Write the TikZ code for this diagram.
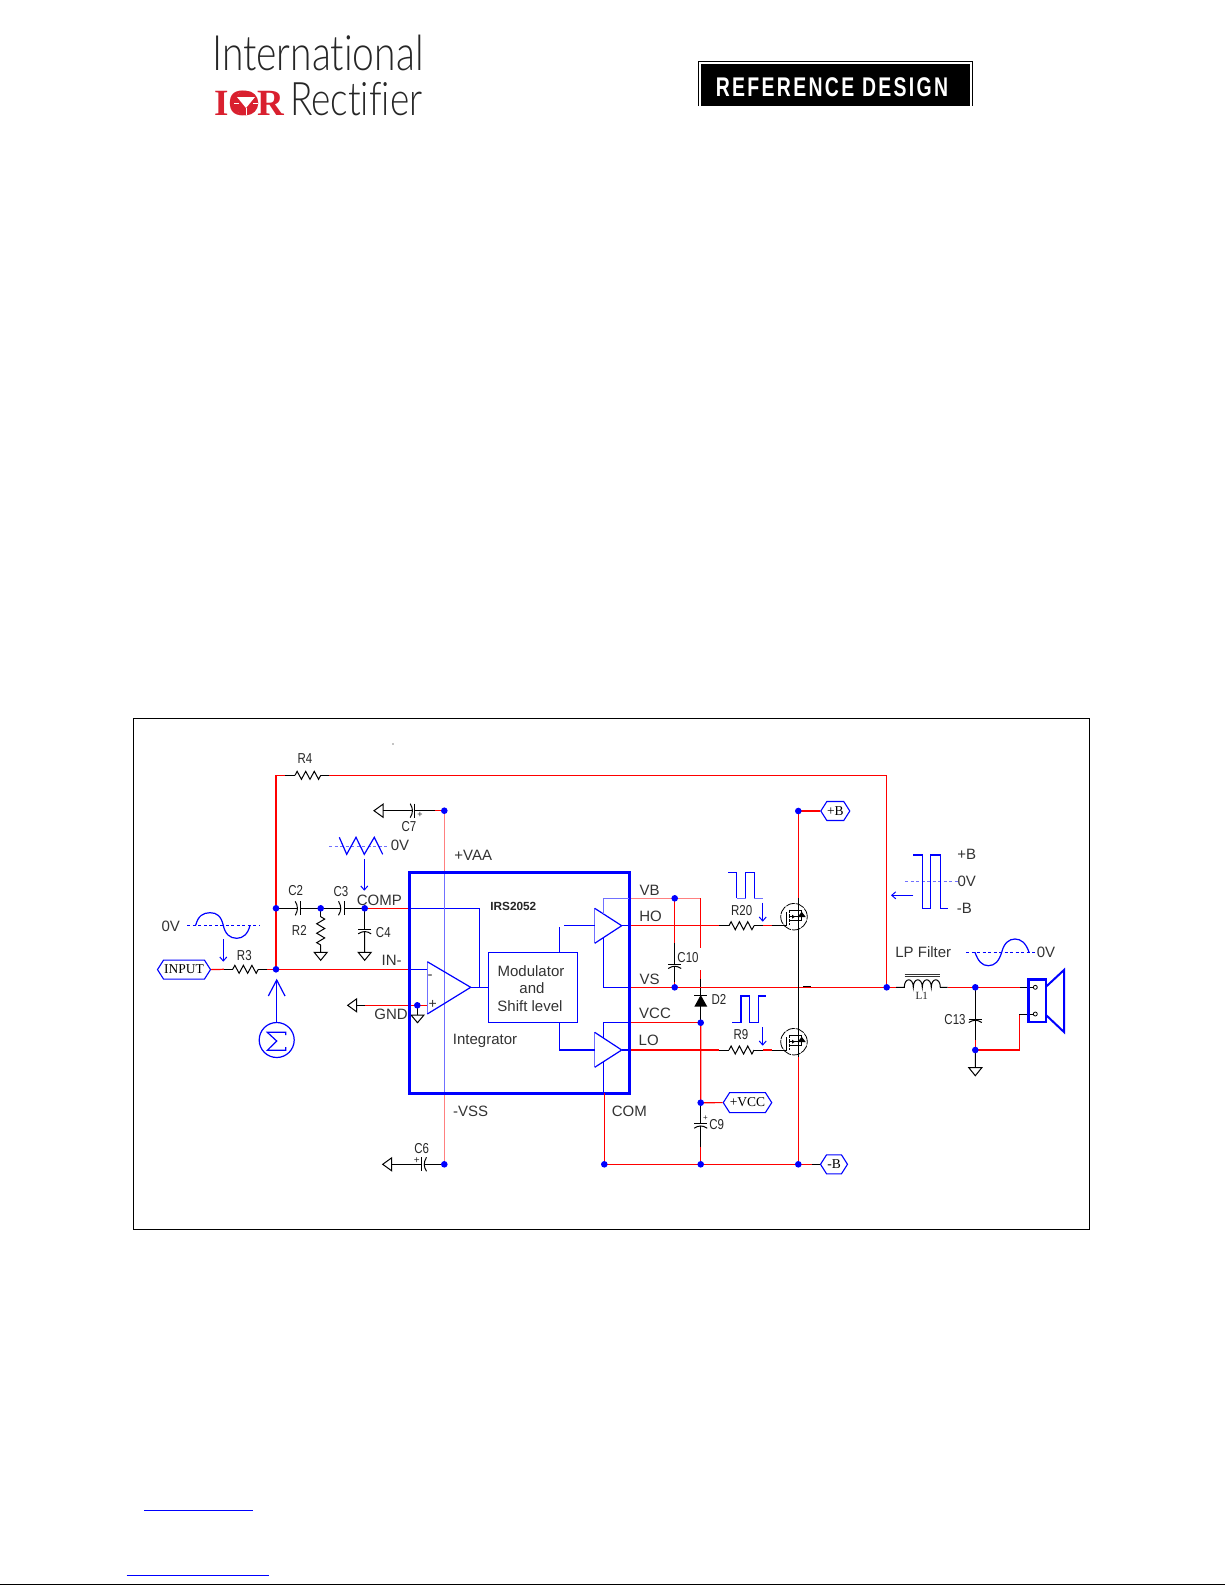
\documentclass[tikz,border=0pt]{standalone}
\usepackage{fontspec}
\usepackage{graphicx}
\usetikzlibrary{arrows.meta,shapes.symbols}
\setmainfont{Liberation Sans}
\newfontfamily\tagfont{Liberation Serif}
\newfontfamily\logofont{Lato Light}[Ligatures=NoCommon]
\newfontfamily\iorfont{Liberation Serif}[BoldFont=Liberation Serif Bold]
\definecolor{wred}{HTML}{FF0000}
\definecolor{wpink}{HTML}{FF8080}
\definecolor{wblue}{HTML}{0000FF}
\definecolor{lblue}{HTML}{7070FF}
\definecolor{iorred}{HTML}{D9202F}
\newcommand\tall[1]{\scalebox{1}[1.25]{#1}}
\newcommand\ZigH[3]{\pgfmathsetmacro\zs{(#2-#1)/12}\draw[bk,line join=miter] (#1,#3) -- ++(\zs,-4) -- ++(2*\zs,8) -- ++(2*\zs,-8) -- ++(2*\zs,8) -- ++(2*\zs,-8) -- ++(2*\zs,8) -- ++(\zs,-4);}
\newcommand\ZigV[3]{\pgfmathsetmacro\zs{(#3-#2)/12}\draw[bk,line join=miter] (#1,#2) -- ++(4,\zs) -- ++(-8,2*\zs) -- ++(8,2*\zs) -- ++(-8,2*\zs) -- ++(8,2*\zs) -- ++(-8,2*\zs) -- ++(4,\zs);}
\newcommand\GndD[3]{\draw[bk] (#1,#2) -- (#1,#3) (#1-6.5,#3) -- (#1+6.5,#3) -- (#1,#3+8) -- cycle;}
\newcommand\GndL[2]{\draw[bk] (#1,#2-6.5) -- (#1,#2+6.5) -- (#1-9,#2) -- cycle;}
\newcommand\CapHr[3]{\draw[bk] (#1,#3-7) -- (#1,#3+7);\draw[bk] (#2-1.5,#3-7) .. controls (#2+1.5,#3-2) and (#2+1.5,#3+2) .. (#2-1.5,#3+7);}
\newcommand\CapV[3]{\draw[bk] (#1-6.5,#2) -- (#1+6.5,#2);\draw[bk] (#1-6.5,#3+1.5) .. controls (#1-2,#3-1.5) and (#1+2,#3-1.5) .. (#1+6.5,#3+1.5);}
\newcommand\Mos[3]{%
 \node[circle,draw=black,line width=.8pt,dash pattern=on 9pt off 1pt,minimum size=26.5pt,inner sep=0] (#3) at (#1,#2) {};
 \draw[bk] (#1-7.3,#2+8.7) -- (#1-7.3,#2-5);
 \draw[bk,dash pattern=on 3.5pt off 1pt] (#1-5,#2-7) -- (#1-5,#2+8.5);
 \draw[bk] (#1-5,#2-6.7) -- (#1+4.3,#2-6.7) (#1-5,#2) -- (#1+4.3,#2) (#1-5,#2+4) -- (#1+4.3,#2+4);
 \draw[bk] (#1+4.3,#2-6.7) -- (#1+7.7,#2-6.7) -- (#1+7.7,#2+4) -- (#1+4.3,#2+4);
 \fill[black] (#1+3.7,#2+.3) -- (#1+11.7,#2+.3) -- (#1+7.7,#2-5) -- cycle;
 \fill[black] (#1-2,#2-2) -- (#1-2,#2+2) -- (#1+1,#2) -- cycle;
}
\tikzset{
 wr/.style={draw=wred,line width=1.2pt},
 wp/.style={draw=wpink,line width=1.2pt},
 bl/.style={draw=wblue,line width=1.2pt},
 lb/.style={draw=lblue,line width=1.2pt},
 bk/.style={draw=black,line width=1pt},
 dash/.style={draw=#1,line width=1pt,dash pattern=on 3pt off 2.5pt},
 dash/.default=lblue,
 arr/.style={draw=wblue,line width=1pt,-{Straight Barb[length=4pt,width=7pt]}},
 dotn/.style={circle,fill=wblue,minimum size=6.6pt,inner sep=0},
 lbl/.style={font=\fontsize{15}{15}\selectfont,text=black!80,inner sep=0},
 lblS/.style={font=\fontsize{11.5}{11.5}\selectfont,text=black!85,inner sep=0},
 tagn/.style={draw=wblue,line width=1.1pt,signal,signal to=west and east,signal pointer angle=115,inner sep=0,minimum height=19pt,font=\tagfont\fontsize{13.5}{13.5}\selectfont,text=black},
}
\begin{document}
\begin{tikzpicture}[x=1pt,y=-1pt]
\useasboundingbox (0,0) rectangle (1225,1585);
\fill[white] (0,0) rectangle (1225,1585);
% logos
\node[inner sep=0,anchor=base west,text=black!85,font=\logofont\fontsize{39}{39}\selectfont] (intl) at (212,70) {\scalebox{1.0}[1.25]{International}};
\node[inner sep=0,anchor=base west,text=black!85,font=\logofont\fontsize{37}{37}\selectfont] (rect) at (290,115) {\scalebox{1.0}[1.25]{Rectifier}};
\node[inner sep=0,anchor=base west,text=iorred,font=\iorfont\bfseries\fontsize{37}{37}\selectfont] (ior) at (214,115) {IOR};
\fill[iorred] (246,103) circle[radius=12.3pt];
\fill[white] (237,97) -- (255,97) -- (246,108) -- cycle;
\draw[white,line width=.8pt] (246,108) -- (246,115) (234,103) -- (239,103) (253,103) -- (258,103);
\draw[black,line width=1pt] (698,106) -- (698,61) -- (972,61) -- (972,106);
\fill[black] (700.5,63.5) rectangle (969.5,106);
\node[inner sep=0,text=white,font=\bfseries\fontsize{27}{27}\selectfont] (refd) at (832,87) {\scalebox{.72}[1]{\addfontfeature{LetterSpace=12}REFERENCE DESIGN}};
% bottom
\draw[wblue,line width=1pt] (144,1510.3) -- (252.7,1510.3);
\draw[wblue,line width=1pt] (126.7,1575) -- (269,1575);
\draw[black,line width=1.5pt] (0,1584.4) -- (1225,1584.4);
% frame
\draw[black,line width=1pt] (133.4,718.6) rectangle (1089.5,1229);
\fill[black] (393,744) circle[radius=.6pt];
% junctions
\coordinate (jfb) at (276,908.3);
\coordinate (jin) at (276,969.3);
\coordinate (jr4) at (276,775.3);
\coordinate (jcr) at (886.7,775.3);
\coordinate (jout) at (886.7,987.3);
\coordinate (jc23) at (320.7,908.3);
\coordinate (jcomp) at (364.7,908.3);
\coordinate (jvaa) at (444.3,810.7);
\coordinate (jvss) at (444.3,1164.3);
\coordinate (jgnd) at (417.3,1005.3);
\coordinate (jvb) at (674.7,898.3);
\coordinate (jvbr) at (700.7,898.3);
\coordinate (jvs) at (674.7,987.3);
\coordinate (jvcc) at (700.7,1022.7);
\coordinate (jpv) at (700.7,1102.7);
\coordinate (jb1) at (604.3,1164.3);
\coordinate (jb2) at (700.7,1164.3);
\coordinate (jb3) at (798.3,1164.3);
\coordinate (jpb) at (798.3,811);
\coordinate (jl) at (975.3,987.3);
\coordinate (jlg) at (975.3,1050);
% tags
\node[tagn,minimum width=53pt] (tinput) at (184,969.6) {INPUT};
\node[tagn,minimum width=29pt] (tpb) at (835.3,811) {+B};
\node[tagn,minimum width=27pt] (tmb) at (834,1164.3) {-B};
\node[tagn,minimum width=48.5pt,minimum height=20pt] (tvcc) at (747.5,1102.6) {+VCC};
% input wires
\draw[wr] (jin) -- (jr4) -- (285,775.3);
\draw[wr] (329,775.3) -- (jcr) -- (jout);
\draw[bk] (285,775.3) -- (295,775.3) (320.7,775.3) -- (329,775.3);
\ZigH{295}{320.7}{775.3}
\node[lblS] (lr4) at (305,759) {\tall{R4}};
\draw[wr] (tinput.east) -- (224,969.3);
\draw[bk] (224,969.3) -- (232.7,969.3) (258.3,969.3) -- (267,969.3);
\ZigH{232.7}{258.3}{969.3}
\draw[wr] (267,969.3) -- (jin) -- (409,969.3);
\draw[bl] (409,969.3) -- (427.3,969.3);
\node[lblS] (lr3) at (244.3,955.3) {\tall{R3}};
% feedback network
\draw[bk] (jfb) -- (296.7,908.3) (299.5,908.3) -- (jc23) -- (340.5,908.3) (344,908.3) -- (jcomp);
\CapHr{300}{296.7}{908.3}
\CapHr{344}{340}{908.3}
\draw[wr] (jcomp) -- (409,908.3);
\draw[bl] (409,908.3) -- (479.3,908.3) -- (479.3,987.3);
\node[lblS] (lc2) at (295.7,891) {\tall{C2}};
\node[lblS] (lc3) at (341,891.7) {\tall{C3}};
\node[lblS] (lr2) at (299.3,930.7) {\tall{R2}};
\node[lblS] (lc4) at (383.3,932.3) {\tall{C4}};
\draw[bk] (jc23) -- (320.7,916.7);
\ZigV{320.7}{916.7}{945}
\GndD{320.7}{945}{952.3}
\draw[bk] (jcomp) -- (364.7,929.3) (364.7,932) -- (364.7,952.3);
\CapV{364.7}{929.3}{932.3}
\GndD{364.7}{932.3}{952.3}
% VAA / VSS rail
\draw[wp] (jvaa) -- (444.3,873);
\draw[lb] (444.3,873) -- (444.3,1093);
\draw[wp] (444.3,1093) -- (jvss);
\draw[wr] (435,810.7) -- (jvaa);
\GndL{383}{810.7}
\draw[bk] (383,810.7) -- (412,810.7) (414.3,810.7) -- (435,810.7);
\CapHr{414.3}{411.7}{810.7}
\node[lblS] (pc7) at (420,814.5) {\fontsize{9}{9}\selectfont+};
\node[lblS] (lc7) at (409,827) {\tall{C7}};
\GndL{391.7}{1164.3}
\draw[bk] (391.7,1164.3) -- (421.7,1164.3) (424,1164.3) -- (jvss);
\draw[bk] (421.7,1157.3) -- (421.7,1171.3);
\draw[bk] (426.5,1157.3) .. controls (423.5,1162) and (423.5,1166.6) .. (426.5,1171.3);
\node[lblS] (pc6) at (416.7,1160.7) {\fontsize{10}{10}\selectfont+};
\node[lblS] (lc6) at (421.7,1148.3) {\tall{C6}};
% GND
\GndL{356.7}{1005.3}
\draw[bk] (356.7,1005.3) -- (365,1005.3);
\draw[wr] (365,1005.3) -- (jgnd) -- (426.7,1005.3);
\draw[bk] (jgnd) -- (417.3,1015);
\draw[bk] (411,1015) -- (424,1015) -- (417.5,1022.7) -- cycle;
% block
\draw[wblue,line width=3pt] (409.3,872.7) rectangle (629.3,1093.3);
\node[lbl] (lcomp) at (379.3,900) {COMP};
\node[lbl] (lin) at (391.7,960.7) {IN-};
\node[lbl] (lgnd) at (391,1014) {GND};
\node[lbl] (lvaa) at (473.3,855.7) {+VAA};
\node[lbl] (lvss) at (470.7,1111.7) {-VSS};
\node[lbl] (lintg) at (485,1040.7) {Integrator};
\node[inner sep=0,font=\bfseries\fontsize{11.8}{11.8}\selectfont,text=black!85] (lirs) at (513.3,906) {IRS2052};
% op amp
\draw[lb] (427.3,961.7) -- (427.3,1014);
\draw[bl] (427.3,961.7) -- (470.7,987.3) -- (427.3,1014);
\draw[bl] (470.7,987.3) -- (488.3,987.3);
\node[lbl] (lminus) at (430,977) {\fontsize{15}{15}\selectfont-};
\node[lbl] (lplus) at (432.7,1004) {\fontsize{14}{14}\selectfont+};
% modulator
\node[draw=wblue,line width=1.2pt,minimum width=89.4pt,minimum height=70pt,inner sep=0] (mod) at (533,987.3) {};
\node[lbl] (m1) at (531,970.7) {Modulator};
\node[lbl] (m2) at (532,988.3) {and};
\node[lbl] (m3) at (530,1005.7) {Shift level};
% buffers
\draw[lb] (594.7,908.3) -- (594.7,943.3);
\draw[bl] (594.7,908.3) -- (621.7,925.7) -- (594.7,943.3);
\draw[lb] (594.7,1032.3) -- (594.7,1067.3);
\draw[bl] (594.7,1032.3) -- (621.7,1050) -- (594.7,1067.3);
\draw[bl] (559.3,952.3) -- (559.3,926.7) (564,925.7) -- (594.7,925.7);
\draw[bl] (559.3,1022.3) -- (559.3,1050) -- (594.7,1050);
\draw[lb] (629,898.3) -- (603.7,898.3) -- (603.7,914);
\draw[bl] (603.7,937.5) -- (603.7,987.3) -- (629,987.3);
\draw[bl] (629,1022.7) -- (603.7,1022.7) -- (603.7,1038);
\draw[bl] (603.7,1061.5) -- (603.7,1093);
\draw[bl] (621.7,925.7) -- (629,925.7) (621.7,1050) -- (629,1050);
% outputs
\draw[wp] (631,898.3) -- (jvbr);
\draw[wr] (jvb) -- (674.7,943.3);
\draw[wr] (700.7,898.3) -- (700.7,948);
\draw[wr] (700.7,970) -- (700.7,979);
\draw[bk] (700.7,979) -- (700.7,1022);
\draw[wr] (631,925.7) -- (719.3,925.7);
\draw[bk] (719.3,925.7) -- (729,925.7) (754,925.7) -- (763.3,925.7);
\ZigH{729}{754}{925.7}
\draw[wr] (763.3,925.7) -- (771.7,925.7);
\draw[bk] (771.7,925.7) -- (786.7,925.7);
\draw[wr] (631,1050) -- (719.3,1050);
\draw[bk] (719.3,1050) -- (729,1050) (754,1050) -- (763.3,1050);
\ZigH{729}{754}{1050}
\draw[wr] (763.3,1050) -- (771.7,1050);
\draw[bk] (771.7,1050) -- (786.7,1050);
\draw[wr] (631,1022.7) -- (jvcc);
\draw[wr] (631,987.3) -- (771,987.3);
\draw[wr] (771,987.3) -- (jout) -- (896,987.3);
\draw[bk] (803,986) -- (811,986);
\draw[bk] (jvb |- 0,943.3) -- (674.7,964) (674.7,967) -- (674.7,982);
\draw[wr] (674.7,982) -- (jvs);
\CapV{674.7}{964}{967}
\node[lblS] (lc10) at (688,958) {\tall{C10}};
\node[lbl] (lvb) at (649.7,890) {VB};
\node[lbl] (lho) at (650.5,916.7) {HO};
\node[lbl] (lvs) at (649.7,979) {VS};
\node[lbl] (lvcc) at (655,1013) {VCC};
\node[lbl] (llo) at (648.7,1040.7) {LO};
\node[lbl] (lcom) at (629.3,1111) {COM};
% diode
\fill[black] (700.7,995) -- (694.3,1006.7) -- (707.3,1006.7) -- cycle;
\draw[bk] (694.3,995) -- (707.3,995);
\node[lblS] (ld2) at (719,999.3) {\tall{D2}};
% +VCC branch
\draw[wr] (jvcc) -- (jpv) -- (tvcc.west);
\draw[bk] (jpv) -- (700.7,1123) (700.7,1126) -- (700.7,1146.7);
\draw[wr] (700.7,1146.7) -- (jb2);
\CapV{700.7}{1123.3}{1126.7}
\node[lblS] (pc9) at (705.5,1118) {\fontsize{8}{8}\selectfont+};
\node[lblS] (lc9) at (716.7,1124.3) {\tall{C9}};
% MOSFET column
\draw[wr] (tpb.west) -- (jpb) -- (798.3,898);
\draw[bk] (798.3,898) -- (798.3,1057);
\draw[wr] (798.3,1057) -- (jb3);
\draw[wr] (604.3,1093) -- (jb1) -- (jb3);
\draw[wr] (jb3) -- (812,1164.3);
\draw[bk] (812,1164.3) -- (tmb.west);
\Mos{794}{916.7}{q1}
\Mos{794}{1041.7}{q2}
\node[lblS] (lr20) at (741.7,910.7) {\tall{R20}};
\node[lblS] (lr9) at (741,1035) {\tall{R9}};
\draw[arr] (762.7,902.7) -- (762.7,921.7);
\draw[arr] (762.7,1027) -- (762.7,1045.7);
\draw[bl,line join=miter] (728.3,872.3) -- (736.7,872.3) -- (736.7,898.3);
\draw[lb] (736.7,898.3) -- (745.7,898.3);
\draw[bl] (745.7,898.3) -- (745.7,872.3) -- (754.3,872.3) -- (754.3,898.3);
\draw[lb] (754.3,898.3) -- (762.7,898.3);
\draw[bl,line join=miter] (732.3,1022.3) -- (741,1022.3) -- (741,996) -- (749.3,996) -- (749.3,1022.3) -- (758.3,1022.3) -- (758.3,996) -- (765.7,996);
% waveforms left
\draw[dash=wblue] (187.3,925.3) -- (259,925.3);
\draw[bl] (195.7,925.3) .. controls (198,916) and (203,912.7) .. (210,912.7) .. controls (217,912.7) and (221,916) .. (223.3,925.3) .. controls (225,934) and (230,938.3) .. (236.7,938.3) .. controls (243,938.3) and (248,934) .. (250,925.3);
\node[lbl] (l0v1) at (170.7,926) {0V};
\draw[arr] (223.3,939) -- (223.3,961.7);
\draw[dash] (329,846.3) -- (389,846.3);
\draw[bl,line join=miter] (339.3,837.3) -- (346.7,854.3) -- (356,837.3) -- (364.3,854.3) -- (374.3,837.3) -- (382.7,854.3);
\node[lbl] (l0v2) at (400,845.7) {0V};
\draw[arr] (364.3,859.3) -- (364.3,890.7);
% summing
\node[circle,draw=wblue,line width=1.2pt,minimum size=35pt,inner sep=0] (sum) at (276.7,1040) {};
\draw[bl,line join=miter] (285.7,1035) -- (285.7,1032.3) -- (267.3,1032.3) -- (276.7,1041) -- (267.3,1050.3) -- (285.7,1050.3) -- (285.7,1047);
\draw[bl] (sum.north) -- (276.7,980);
\draw[bl] (268.3,996) -- (276.7,980) -- (285,996);
% right waveforms
\draw[dash] (905,881.3) -- (958.3,881.3);
\draw[bl,line join=miter] (913.3,855) -- (922.3,855) -- (922.3,908.3) -- (930.7,908.3) -- (930.7,855) -- (940.3,855) -- (940.3,908.3) -- (947.7,908.3);
\draw[arr] (913.3,895.3) -- (891,895.3);
\node[lbl] (lpb) at (966.7,854.7) {+B};
\node[lbl] (l0v3) at (966.7,881.3) {0V};
\node[lbl] (lmb) at (964.3,908.3) {-B};
\node[lbl] (llp) at (923.3,952.3) {LP Filter};
\draw[dash=wblue] (966,952.3) -- (1036.7,952.3);
\draw[bl] (975,952.3) .. controls (978,961) and (982,965.7) .. (988.3,965.7) .. controls (995,965.7) and (999,961) .. (1001.7,952.3) .. controls (1004,943) and (1009,939) .. (1015,939) .. controls (1021,939) and (1026,943) .. (1029,952.3);
\node[lbl] (l0v4) at (1046,952.3) {0V};
% L1
\draw[bk] (896,987.3) -- (904.3,987.3) .. controls +(0,-10) and +(0,-10) .. ++(9,0) .. controls +(0,-10) and +(0,-10) .. ++(9,0) .. controls +(0,-10) and +(0,-10) .. ++(9,0) .. controls +(0,-10) and +(0,-10) .. ++(9,0) -- (947.7,987.3);
\draw[black!80,line width=.8pt] (904.5,974.3) -- (940,974.3) (904.5,976) -- (940,976);
\node[inner sep=0,font=\tagfont\fontsize{11}{11}\selectfont,text=black!85] (ll1) at (921.7,995.5) {L1};
\draw[wr] (947.7,987.3) -- (jl) -- (1020,987.3);
\draw[bk] (1020,987.3) -- (1033,987.3);
\draw[bk] (jl) -- (975.3,1019) (975.3,1021) -- (975.3,1040);
\draw[wr] (975.3,1040) -- (jlg);
\CapV{975.3}{1019}{1021}
\node[lblS] (lc13) at (955,1019.7) {\tall{C13}};
\draw[wr] (jlg) -- (1019.3,1050) -- (1019.3,1014);
\draw[bk] (1019.3,1014) -- (1033,1014);
\GndD{975.3}{1050}{1067.7}
% speaker
\draw[wblue,line width=2.5pt] (1028.3,979.3) rectangle (1046,1022);
\draw[wblue,line width=2pt,line join=miter] (1046,986.7) -- (1064,970) -- (1064,1032) -- (1046,1015);
\node[circle,draw=black,line width=.8pt,fill=white,minimum size=4pt,inner sep=0] (sp1) at (1035.3,987.3) {};
\node[circle,draw=black,line width=.8pt,fill=white,minimum size=4pt,inner sep=0] (sp2) at (1035.3,1014) {};
% dots
\foreach \c in {jfb,jin,jc23,jcomp,jvaa,jvss,jgnd,jvb,jvs,jvcc,jpv,jb1,jb2,jb3,jpb,jout,jl,jlg}{\node[dotn] at (\c) {};}
\end{tikzpicture}
\end{document}
